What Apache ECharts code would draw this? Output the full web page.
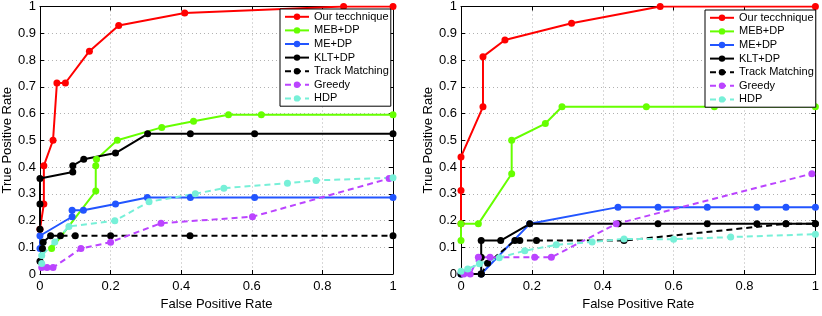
<!DOCTYPE html>
<html><head><meta charset="utf-8">
<script src="https://cdn.jsdelivr.net/npm/echarts@6/dist/echarts.min.js"></script>
<style>html,body{margin:0;padding:0;background:#fff}#c{width:822px;height:316px}</style>
</head><body><div id="c"></div>
<script>
const seriesNames = ['Our tecchnique','MEB+DP','ME+DP','KLT+DP','Track Matching','Greedy','HDP'];
const xTicks = [0,0.2,0.4,0.6,0.8,1];
// Left panel [FPR, TPR]
const oursL   = [[0,0.167],[0.011,0.262],[0.011,0.405],[0.037,0.5],[0.048,0.714],[0.072,0.714],[0.14,0.833],[0.223,0.929],[0.41,0.976],[0.86,1.0],[1,1]];
const mebL    = [[0.033,0.095],[0.158,0.31],[0.158,0.405],[0.16,0.429],[0.219,0.5],[0.345,0.548],[0.435,0.571],[0.534,0.595],[0.627,0.595],[1,0.595]];
const meL     = [[0,0.095],[0,0.143],[0.091,0.214],[0.091,0.238],[0.123,0.238],[0.214,0.262],[0.304,0.286],[0.426,0.286],[0.608,0.286],[1,0.286]];
const kltL    = [[0,0.167],[0,0.262],[0,0.357],[0.093,0.381],[0.093,0.405],[0.124,0.429],[0.214,0.452],[0.305,0.524],[0.426,0.524],[0.608,0.524],[1,0.524]];
const trackL  = [[0,0.048],[0.007,0.095],[0.009,0.119],[0.03,0.143],[0.058,0.143],[0.1,0.143],[0.2,0.143],[0.425,0.143],[1,0.143]];
const greedyL = [[0.005,0.024],[0.02,0.024],[0.037,0.024],[0.116,0.095],[0.2,0.119],[0.343,0.19],[0.602,0.214],[0.989,0.357]];
const hdpL    = [[0.005,0.039],[0.005,0.069],[0.042,0.12],[0.082,0.178],[0.212,0.199],[0.309,0.27],[0.44,0.3],[0.521,0.321],[0.701,0.339],[0.782,0.35],[1,0.36]];
// Right panel
const oursR   = [[0,0.1875],[0,0.3125],[0,0.4375],[0.062,0.625],[0.062,0.8125],[0.124,0.875],[0.312,0.9375],[0.562,1],[1,1]];
const mebR    = [[0,0.125],[0,0.1875],[0.049,0.1875],[0.143,0.375],[0.143,0.5],[0.238,0.5625],[0.285,0.625],[0.523,0.625],[0.715,0.625],[1,0.625]];
const meR     = [[0,0],[0.057,0],[0.194,0.1875],[0.443,0.25],[0.556,0.25],[0.695,0.25],[0.835,0.25],[0.917,0.25],[1,0.25]];
const kltR    = [[0,0],[0.057,0],[0.057,0.0625],[0.057,0.125],[0.112,0.125],[0.194,0.1875],[0.444,0.1875],[0.556,0.1875],[0.695,0.1875],[0.835,0.1875],[0.917,0.1875],[1,0.1875]];
const trackR  = [[0.057,0],[0.075,0.04],[0.152,0.125],[0.166,0.125],[0.213,0.125],[0.46,0.125],[0.917,0.1875],[1,0.1875]];
const greedyR = [[0.008,0],[0.026,0],[0.049,0.0625],[0.082,0.0625],[0.208,0.0625],[0.255,0.0625],[0.438,0.1875],[0.99,0.375]];
const hdpR    = [[0,0.01],[0.019,0.019],[0.052,0.038],[0.108,0.061],[0.18,0.087],[0.269,0.109],[0.37,0.12],[0.46,0.131],[0.6,0.13],[0.761,0.138],[1,0.149]];

const colors = ['#ff0000','#66ff00','#2255ff','#000000','#000000','#bb44ff','#77f0d8'];
const dashed = [false,false,false,false,true,true,true];
const leftData = [oursL,mebL,meL,kltL,trackL,greedyL,hdpL];
const rightData = [oursR,mebR,meR,kltR,trackR,greedyR,hdpR];

const FONT = 'Liberation Sans, Arial, sans-serif';
function xAx(gi, pos){
  const main = pos==='bottom';
  return {type:'value', gridIndex:gi, position:pos, min:0, max:1, interval:0.2,
    axisLine:{show:true,onZero:false,lineStyle:{color:'#000',width:1}},
    axisTick:{show:true,inside:true,length:4,lineStyle:{color:'#000'}},
    axisLabel:{show:main,color:'#000',fontSize:13,fontFamily:FONT,margin:6},
    splitLine:{show:main,lineStyle:{color:'#b0b0b0',type:[1,3],width:1}},
    name: main?'False Positive Rate':'', nameLocation:'middle', nameGap:24,
    nameTextStyle:{color:'#000',fontSize:13,fontFamily:FONT}};
}
function yAx(gi, pos){
  const main = pos==='left';
  return {type:'value', gridIndex:gi, position:pos, min:0, max:1, interval:0.1,
    axisLine:{show:true,onZero:false,lineStyle:{color:'#000',width:1}},
    axisTick:{show:true,inside:true,length:4,lineStyle:{color:'#000'}},
    axisLabel:{show:main,color:'#000',fontSize:13,fontFamily:FONT,margin:4},
    splitLine:{show:main,lineStyle:{color:'#b0b0b0',type:[1,3],width:1}},
    name: main?'True Positive Rate':'', nameLocation:'middle', nameGap:22,
    nameTextStyle:{color:'#000',fontSize:13,fontFamily:FONT}};
}
const series = [];
[leftData,rightData].forEach((set,gi)=>{
  set.forEach((d,i)=>{
    series.push({type:'line', name:seriesNames[i], xAxisIndex:gi*2, yAxisIndex:gi*2, data:d,
      symbol:'circle', symbolSize:7, animation:false,
      lineStyle:{color:colors[i], width:2, type: dashed[i]?[6,4]:'solid'},
      itemStyle:{color:colors[i]}});
  });
});
function legend(left, top){
  return {left:left, top:top, orient:'vertical', data:seriesNames, itemWidth:24, itemHeight:8, itemGap:0,
    padding:[1,2,1,4], backgroundColor:'#fff', borderColor:'#000', borderWidth:1, borderRadius:0,
    textStyle:{color:'#000',fontSize:11,fontFamily:FONT,lineHeight:13.6}};
}
const chart = echarts.init(document.getElementById('c'));
chart.setOption({
  animation:false,
  grid:[{left:35,top:5,width:358,height:281},{left:461,top:6,width:357,height:282}],
  xAxis:[xAx(0,'bottom'),xAx(0,'top'),xAx(1,'bottom'),xAx(1,'top')],
  yAxis:[yAx(0,'left'),yAx(0,'right'),yAx(1,'left'),yAx(1,'right')],
  legend:[legend(280,9),legend(705,10)],
  series:series
});
</script></body></html>
